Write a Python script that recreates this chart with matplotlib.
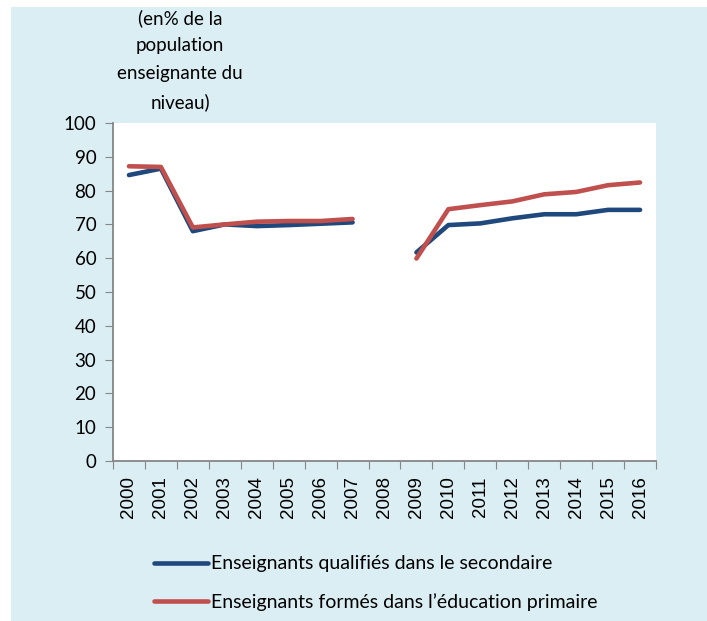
import numpy as np
import matplotlib
matplotlib.use("Agg")
import matplotlib.pyplot as plt
from matplotlib.patches import Rectangle

years = [str(y) for y in range(2000, 2017)]
# 2008 has no data
secondaire = [84.6, 86.5, 68.0, 70.0, 69.5, 69.8, 70.2, 70.6, np.nan,
              61.7, 69.8, 70.3, 71.8, 73.0, 73.0, 74.3, 74.3]
primaire = [87.2, 87.0, 69.1, 70.0, 70.8, 71.0, 71.0, 71.6, np.nan,
            59.9, 74.5, 75.7, 76.8, 78.9, 79.6, 81.6, 82.4]

BLUE = "#1F497D"
RED = "#C0504D"
BG = "#DAEEF3"
GRAY = "#868686"

plt.rcParams['font.family'] = ['Lato', 'DejaVu Sans']

fig = plt.figure(figsize=(7.07, 6.21), dpi=100, facecolor="white")
fig.patches.append(Rectangle((11 / 707, 0), 1 - 11 / 707, 1 - 7 / 621,
                             transform=fig.transFigure, facecolor=BG,
                             edgecolor="none", zorder=-10))

ax = fig.add_axes([113 / 707, 160 / 621, 543 / 707, 338 / 621])
ax.set_facecolor("white")

x = np.arange(len(years))
ax.plot(x, secondaire, color=BLUE, lw=3.3, solid_capstyle="round",
        label="Enseignants qualifiés dans le secondaire")
ax.plot(x, primaire, color=RED, lw=3.3, solid_capstyle="round",
        label="Enseignants formés dans l’éducation primaire")

ax.set_xlim(-0.5, len(years) - 0.5)
ax.set_ylim(0, 100)
ax.set_yticks(range(0, 101, 10))
ax.tick_params(axis="y", labelsize=13.5, length=6, color=GRAY, pad=6)

# category axis: tick marks between categories, labels at centers
ax.set_xticks(np.arange(-0.5, len(years), 1))
ax.set_xticklabels([])
ax.tick_params(axis="x", which="major", length=6, color=GRAY)
ax.set_xticks(x, minor=True)
ax.set_xticklabels(years, minor=True, rotation=90, fontsize=13.5,
                   family=['Liberation Sans'])
ax.tick_params(axis="x", which="minor", length=0, pad=11)

for s in ["top", "right"]:
    ax.spines[s].set_visible(False)
for s in ["left", "bottom"]:
    ax.spines[s].set_color(GRAY)
    ax.spines[s].set_linewidth(1.3)

fig.text(180 / 707, 1 - 9 / 621,
         "(en% de la\npopulation\nenseignante du\nniveau)",
         ha="center", va="top", fontsize=13.5, linespacing=1.75)

ax.legend(loc="upper left", bbox_to_anchor=(136 / 707, 1 - 538 / 621),
          bbox_transform=fig.transFigure, frameon=False, fontsize=14,
          handlelength=2.8, handletextpad=0.15, labelspacing=1.05)

fig.savefig("out.png", dpi=100, facecolor=fig.get_facecolor())
